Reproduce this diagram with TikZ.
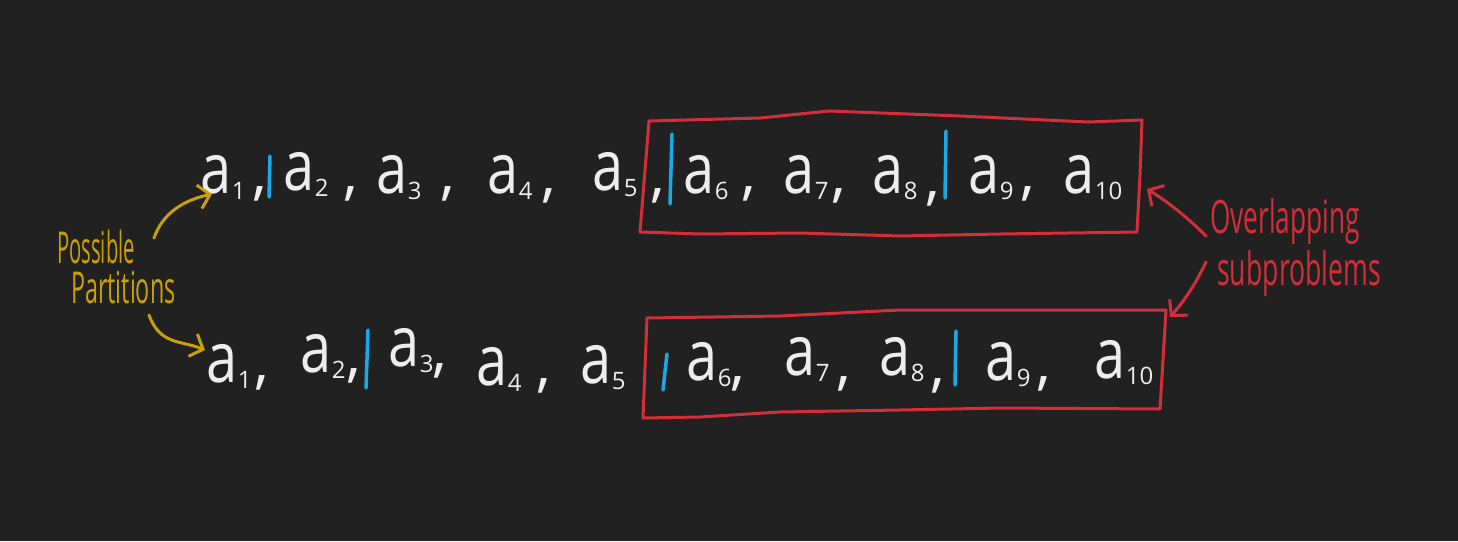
\documentclass[tikz,border=0pt]{standalone}
\usepackage{fontspec}
\setmainfont{Open Sans}
\usetikzlibrary{arrows.meta}
\definecolor{bg}{HTML}{212121}
\definecolor{chalk}{HTML}{EDEDED}
\definecolor{cyanbar}{HTML}{1AA9E6}
\definecolor{redink}{HTML}{D22F3B}
\definecolor{goldink}{HTML}{C9A008}
\newcommand\elt[1]{\scalebox{0.8}[1]{\fontsize{70}{70}\selectfont a}\kern0.5pt\raisebox{-6pt}{\fontsize{24}{24}\selectfont #1}}
\newcommand\cma{\fontsize{60}{60}\selectfont ,}
\begin{document}
\begin{tikzpicture}[x=1pt,y=-1pt,
  elem/.style={anchor=base west,inner sep=0pt,text=chalk},
  commanode/.style={anchor=base west,inner sep=0pt,text=chalk},
  bar/.style={draw=cyanbar,line width=3.5pt,line cap=round},
  box/.style={draw=redink,line width=3pt,line join=round},
  goldarrow/.style={draw=goldink,line width=3pt,line cap=round,-{Straight Barb[length=11pt,width=24pt,line width=3pt]}},
  redarrow/.style={draw=redink,line width=3pt,line cap=round,-{Straight Barb[length=11pt,width=24pt,line width=3pt]}},
  lbl/.style={inner sep=0pt,anchor=base west}]
\fill[bg] (0,0) rectangle (1458,541);
\useasboundingbox (0,0) rectangle (1458,541);
% top row
\node[elem] (t1) at (200,193) {\elt{1}};
\node[commanode] (tc1) at (252,193) {\cma};
\node[elem] (t2) at (283,190) {\elt{2}};
\node[commanode] (tc2) at (343,193) {\cma};
\node[elem] (t3) at (376,193) {\elt{3}};
\node[commanode] (tc3) at (440,193) {\cma};
\node[elem] (t4) at (487,193) {\elt{4}};
\node[commanode] (tc4) at (541,195) {\cma};
\node[elem] (t5) at (592,190) {\elt{5}};
\node[commanode] (tc5) at (650,195) {\cma};
\node[elem] (t6) at (683,193) {\elt{6}};
\node[commanode] (tc6) at (741,193) {\cma};
\node[elem] (t7) at (783,193) {\elt{7}};
\node[commanode] (tc7) at (831,195) {\cma};
\node[elem] (t8) at (872,193) {\elt{8}};
\node[commanode] (tc8) at (925,198) {\cma};
\node[elem] (t9) at (968,193) {\elt{9}};
\node[commanode] (tc9) at (1020,193) {\cma};
\node[elem] (t10) at (1063,193) {\elt{10}};
% bottom row
\node[elem] (b1) at (206,382) {\elt{1}};
\node[commanode] (bc1) at (254,382) {\cma};
\node[elem] (b2) at (300,372) {\elt{2}};
\node[commanode] (bc2) at (346,375) {\cma};
\node[elem] (b3) at (388,366) {\elt{3}};
\node[commanode] (bc3) at (432,370) {\cma};
\node[elem] (b4) at (476,385) {\elt{4}};
\node[commanode] (bc4) at (536,385) {\cma};
\node[elem] (b5) at (580,383) {\elt{5}};
\node[elem] (b6) at (686,380) {\elt{6}};
\node[commanode] (bc6) at (730,383) {\cma};
\node[elem] (b7) at (784,375) {\elt{7}};
\node[commanode] (bc7) at (836,383) {\cma};
\node[elem] (b8) at (879,375) {\elt{8}};
\node[commanode] (bc8) at (930,385) {\cma};
\node[elem] (b9) at (985,380) {\elt{9}};
\node[commanode] (bc9) at (1036,383) {\cma};
\node[elem] (b10) at (1094,378) {\elt{10}};
% blue partition bars
\draw[bar] (270,156) -- (269,197);
\draw[bar] (672,134) -- (670,204);
\draw[bar] (946,131) -- (945,198);
\draw[bar] (368,330) -- (366,388);
\draw[bar] (667,354) -- (663,390);
\draw[bar] (956,331) -- (955,385);
% red boxes
\draw[box] (649,121) -- (760,118) -- (829,111) -- (960,116) -- (1088,122) -- (1142,120)
  -- (1140,175) -- (1137,232) -- (1000,234) -- (900,236) -- (800,233) -- (700,234) -- (640,232) -- cycle;
\draw[box] (647,318) -- (780,316) -- (900,310) -- (1000,310) -- (1166,310)
  -- (1163,360) -- (1160,409) -- (1000,408) -- (900,410) -- (780,412) -- (700,417) -- (643,418) -- cycle;
% labels
\node[lbl,text=goldink] (lblP1) at (57,263) {\scalebox{0.46}[1]{\fontsize{44}{44}\selectfont Possible}};
\node[lbl,text=goldink] (lblP2) at (71,303) {\scalebox{0.53}[1]{\fontsize{44}{44}\selectfont Partitions}};
\node[lbl,text=redink] (lblO1) at (1210,233) {\scalebox{0.57}[1]{\fontsize{46}{46}\selectfont Overlapping}};
\node[lbl,text=redink] (lblO2) at (1217,285) {\scalebox{0.58}[1]{\fontsize{46}{46}\selectfont subproblems}};
% arrows
\coordinate (g1s) at (154,238);
\coordinate (g1e) at (212,194);
\coordinate (g2s) at (149,315);
\coordinate (g2e) at (205,350);
\coordinate (r1s) at (1206,236);
\coordinate (r1e) at (1147,189);
\coordinate (r2s) at (1206,262);
\coordinate (r2e) at (1170,317);
\draw[goldarrow] (g1s) .. controls (163,212) and (185,200) .. (g1e);
\draw[goldarrow] (g2s) .. controls (160,345) and (180,340) .. (g2e);
\draw[redarrow] (r1s) .. controls (1185,215) and (1165,200) .. (r1e);
\draw[redarrow] (r2s) .. controls (1195,285) and (1185,300) .. (r2e);
\end{tikzpicture}
\end{document}
